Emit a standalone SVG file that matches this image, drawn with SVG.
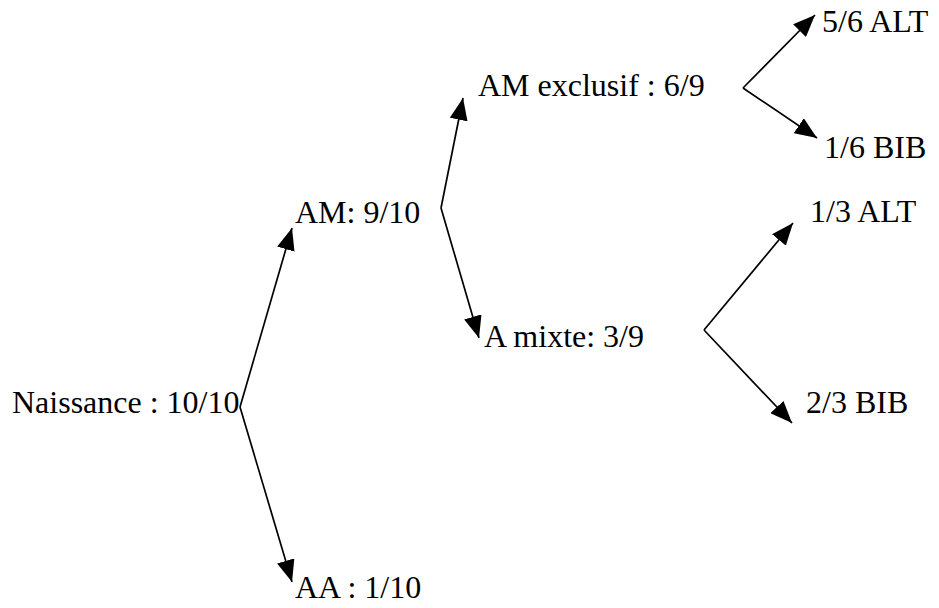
<svg xmlns="http://www.w3.org/2000/svg" width="939" height="608" viewBox="0 0 939 608">
<style>
text{font-family:"Liberation Serif","Times New Roman",serif;font-size:32px;fill:#000}
.c{stroke:#000;stroke-width:1.7;fill:none;marker-end:url(#ah)}
</style>
<defs>
<marker id="ah" markerUnits="userSpaceOnUse" markerWidth="23" markerHeight="18" refX="22" refY="9" orient="auto">
<path d="M0,0 L22,9 L0,18 z" fill="#000"/>
</marker>
</defs>
<rect width="939" height="608" fill="#fff"/>
<g id="connectors">
<path class="c" d="M240,407 L292,228"/>
<path class="c" d="M240,407 L292,582"/>
<path class="c" d="M441,208 L463,98"/>
<path class="c" d="M441,208 L479,338"/>
<path class="c" d="M743,88 L815,15"/>
<path class="c" d="M743,88 L817,138"/>
<path class="c" d="M704,330 L793,223"/>
<path class="c" d="M704,330 L792,423"/>
</g>
<g id="naissance"><text x="12" y="413">Naissance : 10/10</text></g>
<g id="am"><text x="295" y="223">AM: 9/10</text></g>
<g id="aa"><text x="295" y="598">AA : 1/10</text></g>
<g id="am-exclusif"><text x="478" y="96">AM exclusif : 6/9</text></g>
<g id="a-mixte"><text x="484" y="347">A mixte: 3/9</text></g>
<g id="alt-56"><text x="822" y="32">5/6 ALT</text></g>
<g id="bib-16"><text x="824" y="158">1/6 BIB</text></g>
<g id="alt-13"><text x="810" y="222">1/3 ALT</text></g>
<g id="bib-23"><text x="806" y="413">2/3 BIB</text></g>
</svg>
